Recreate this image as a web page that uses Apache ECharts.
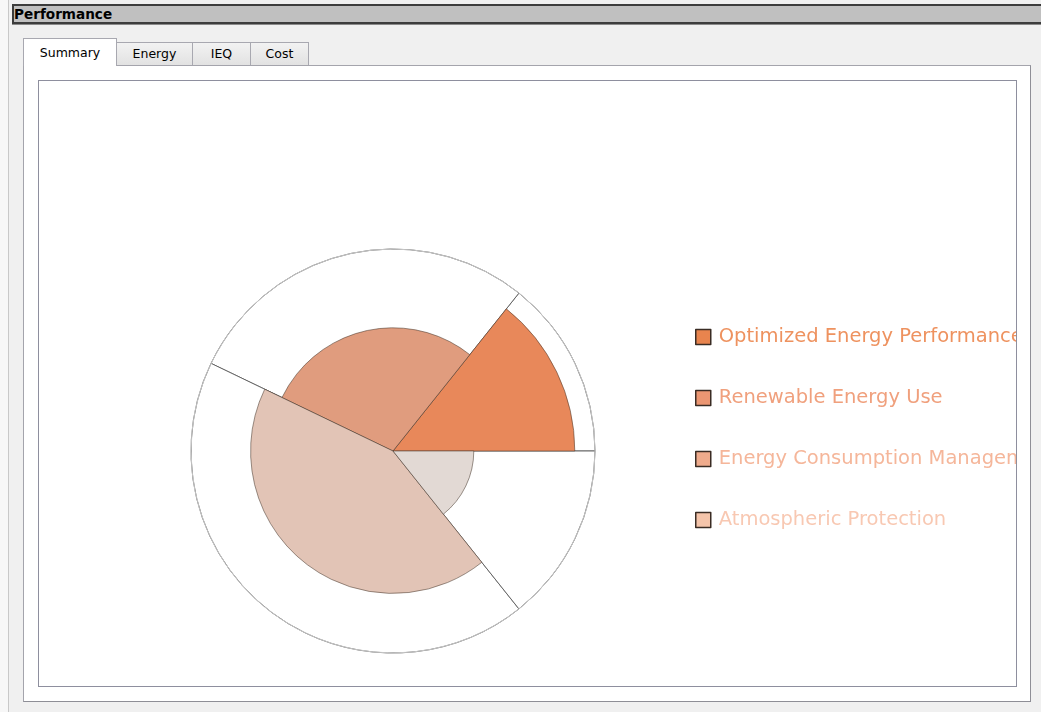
<!DOCTYPE html>
<html>
<head>
<meta charset="utf-8">
<script src="https://cdn.jsdelivr.net/npm/echarts@6/dist/echarts.min.js"></script>
<style>
  html, body { margin: 0; padding: 0; width: 1041px; height: 712px; overflow: hidden; background: #f0f0f0; font-family: "DejaVu Sans", sans-serif; }
  #leftstrip { position: absolute; left: 0; top: 0; width: 8px; height: 712px; background: #f7f7f7; border-right: 1px solid #c8c8c8; }
  #titlebar { position: absolute; left: 12px; top: 4px; width: 1040px; height: 16px; background: #c0c0c0; border-top: 2px solid #3c3c3c; border-bottom: 2px solid #3c3c3c; border-left: 2px solid #3c3c3c; box-shadow: 0 1px 0 #8a8a8a; }
  #titlebar span { position: absolute; left: 0px; top: 0px; font-size: 13.6px; font-weight: bold; color: #000; line-height: 16px; }
  #panel { position: absolute; left: 23px; top: 65px; width: 1006px; height: 635px; background: #fff; border: 1px solid #a4a4ac; border-right-color: #8e8e96; border-bottom-color: #8e8e96; }
  .tab { position: absolute; height: 23px; top: 42px; background: linear-gradient(#f2f2f2, #e2e2e2); border: 1px solid #a8a8b0; border-bottom: none; font-size: 12.5px; color: #000; text-align: center; line-height: 22px; box-sizing: border-box; }
  .tab.active { top: 38px; height: 28px; background: #fff; line-height: 28px; z-index: 2; }
  #frame { position: absolute; left: 38px; top: 80px; width: 977px; height: 605px; border: 1px solid #8e8f9e; background: #fff; }
  #chart { position: absolute; left: 0; top: 0; width: 977px; height: 605px; }
</style>
</head>
<body>
<div id="leftstrip"></div>
<div id="titlebar"><span>Performance</span></div>
<div id="panel"></div>
<div class="tab active" style="left:23px;width:94px;">Summary</div>
<div class="tab" style="left:116px;width:77px;">Energy</div>
<div class="tab" style="left:192px;width:59px;">IEQ</div>
<div class="tab" style="left:250px;width:59px;">Cost</div>
<div id="frame"><div id="chart"></div></div>
<script>
// ---- data ----
const categories = ['Optimized Energy Performance', 'Renewable Energy Use', 'Energy Consumption Management', 'Atmospheric Protection'];
const weights = [1, 2, 3, 1];              // angular share of each category
const scores = [0.90, 0.61, 0.705, 0.40];  // achieved fraction of the maximum (radius)
const sliceColors = ['#E8885A', '#E09C7E', '#E2C4B6', '#E2D9D4'];
const legendIconColors = ['#E8844E', '#EB9672', '#EFAB8C', '#F4C4AA'];
const legendTextColors = ['#EE925F', '#F0A07D', '#F5B69A', '#F8C8B2'];

// ---- layout ----
const CENTER = [354, 370];
const R = 202;

const chart = echarts.init(document.getElementById('chart'), null, { renderer: 'canvas' });

const baseData = categories.map((c, i) => ({ name: c, value: weights[i] }));

const series = [];
// outer (maximum) sectors
series.push({
  type: 'pie', name: 'max', center: CENTER, radius: [0, R],
  startAngle: 0, clockwise: false, silent: true, z: 1,
  label: { show: false }, labelLine: { show: false }, emphasis: { disabled: true },
  data: baseData.map(d => ({ name: d.name, value: d.value,
    itemStyle: { color: '#ffffff', borderColor: '#5a5a5a', borderWidth: 0.9 } }))
});
// achieved sectors
categories.forEach((c, i) => {
  series.push({
    type: 'pie', name: c, center: CENTER, radius: [0, R * scores[i]],
    startAngle: 0, clockwise: false, silent: true, z: 2 + i,
    label: { show: false }, labelLine: { show: false }, emphasis: { disabled: true },
    data: baseData.map((d, j) => ({ name: d.name, value: d.value,
      itemStyle: j === i
        ? { color: sliceColors[i], borderColor: 'rgba(70,55,45,0.6)', borderWidth: 0.9 }
        : { color: 'rgba(0,0,0,0)', borderWidth: 0 } }))
  });
});

chart.setOption({
  animation: false,
  polar: { center: CENTER, radius: R },
  angleAxis: { type: 'value', z: 20, axisLine: { show: true, lineStyle: { color: '#c6c6c6', width: 1 } },
    axisTick: { show: false }, axisLabel: { show: false }, splitLine: { show: false } },
  radiusAxis: { show: false },
  legend: {
    orient: 'vertical', left: 651, top: 240, itemWidth: 15, itemHeight: 15, itemGap: 39,
    selectedMode: false, icon: 'rect',
    itemStyle: { borderColor: '#3a2c24', borderWidth: 1.5 },
    textStyle: { fontFamily: 'DejaVu Sans', fontSize: 19.5, lineHeight: 22, padding: [0, 0, 0, 3] },
    data: categories.map((c, i) => ({
      name: c,
      itemStyle: { color: legendIconColors[i], borderColor: '#3a2c24', borderWidth: 1.5 },
      textStyle: { color: legendTextColors[i] }
    }))
  },
  series: series
});
</script>
</body>
</html>
